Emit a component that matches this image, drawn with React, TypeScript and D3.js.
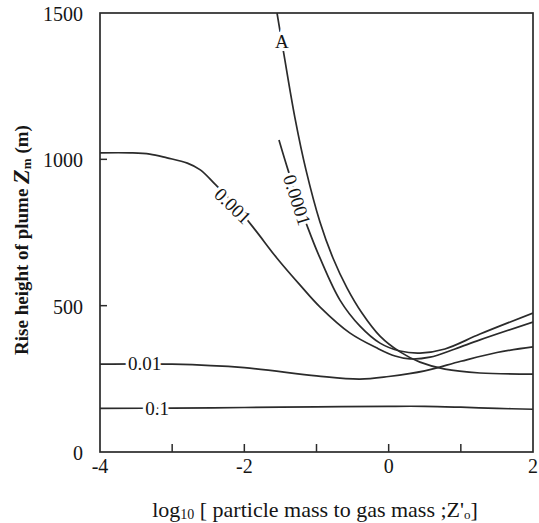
import React from 'react';
import * as d3 from 'd3';

type Pt = [number, number];

const xDomain: [number, number] = [-4, 2];
const yDomain: [number, number] = [0, 1500];
const xTickValues = [-4, -3, -2, -1, 0, 1, 2];
const xTickLabels = [-4, -2, 0, 2];
const yTickValues = [500, 1000];
const yTickLabels = [0, 500, 1000, 1500];

const seriesA: Pt[] = [[-1.547, 1500], [-1.45, 1357], [-1.298, 1141], [-1.146, 964], [-0.952, 786], [-0.772, 663], [-0.578, 561], [-0.37, 475], [-0.12, 396], [0.157, 342], [0.434, 307], [0.78, 283], [1.265, 270], [2, 266]];
const series00001: Pt[] = [[-1.52, 1066], [-1.395, 964], [-1.256, 861], [-1.118, 765], [-0.952, 663], [-0.675, 519], [-0.397, 430], [-0.12, 372], [0.157, 345], [0.434, 338], [0.78, 352], [1.265, 403], [2, 475]];
const series0001: Pt[] = [[-4, 1022], [-3.58, 1022], [-3.31, 1018], [-3.07, 1005], [-2.79, 987], [-2.61, 964], [-2.41, 916], [-2.13, 844], [-1.85, 759], [-1.55, 663], [-1.23, 571], [-0.95, 495], [-0.54, 407], [-0.16, 355], [0.088, 328], [0.295, 318], [0.573, 324], [0.919, 352], [1.265, 383], [2, 444]];
const series001: Pt[] = [[-4, 300], [-3, 300], [-2, 288], [-1, 260], [-0.4, 249], [0, 258], [0.5, 277], [1, 310], [1.5, 340], [2, 359]];
const series01: Pt[] = [[-4, 149], [-3, 150], [-2, 152], [-1, 154], [0, 156], [0.5, 156], [1, 153], [1.5, 149], [2, 146]];

const curveLabels = [
  { text: 'A', x: -1.48, y: 1401, angle: 0 },
  { text: '0.0001', x: -1.27, y: 861, angle: 72 },
  { text: '0.001', x: -2.16, y: 841, angle: 44 },
  { text: '0.01', x: -3.38, y: 301, angle: 0 },
  { text: '0.1', x: -3.21, y: 150, angle: 0 },
];

const allSeries = [seriesA, series00001, series0001, series001, series01];

const W = 539, H = 523;
const L = 100, R = 533, T = 13, B = 452;
const INK = '#2b2b2b';
const TXT = '#151515';
const FONT = '"Liberation Serif", "Times New Roman", serif';

export default function App() {
  const x = d3.scaleLinear().domain(xDomain).range([L, R]);
  const y = d3.scaleLinear().domain(yDomain).range([B, T]);
  const line = d3.line<Pt>().x(d => x(d[0])).y(d => y(d[1])).curve(d3.curveCatmullRom.alpha(0.5));

  return (
    <svg width={W} height={H} style={{ position: 'absolute', left: 0, top: 0, background: '#fff' }}
      fontFamily={FONT}>
      <defs>
        <clipPath id="plot"><rect x={L} y={T} width={R - L} height={B - T} /></clipPath>
      </defs>
      <g clipPath="url(#plot)">
        {allSeries.map((s, i) => (
          <path key={i} d={line(s) || ''} fill="none" stroke={INK} strokeWidth={1.7} />
        ))}
      </g>
      {curveLabels.map((c, i) => (
        <text key={i} transform={`translate(${x(c.x)},${y(c.y)}) rotate(${c.angle})`}
          textAnchor="middle" dominantBaseline="central" fontSize={19} fill={TXT}
          stroke="#fff" strokeWidth={6} style={{ paintOrder: 'stroke' }}>
          {c.text}
        </text>
      ))}
      <rect x={L} y={T} width={R - L} height={B - T} fill="none" stroke={INK} strokeWidth={1.7} />
      {xTickValues.filter(v => v > xDomain[0] && v < xDomain[1]).map(v => (
        <line key={v} x1={x(v)} x2={x(v)} y1={B} y2={B - 8} stroke={INK} strokeWidth={1.5} />
      ))}
      {yTickValues.map(v => (
        <line key={v} x1={L} x2={L + 7} y1={y(v)} y2={y(v)} stroke={INK} strokeWidth={1.5} />
      ))}
      {xTickLabels.map(v => (
        <text key={v} x={x(v)} y={B + 14} textAnchor="middle" dominantBaseline="central" fontSize={20} fill={TXT}>
          {v < 0 ? `-${Math.abs(v)}` : v}
        </text>
      ))}
      {yTickLabels.map(v => (
        <text key={v} x={L - 17} y={y(v) + 1} textAnchor="end" dominantBaseline="central" fontSize={20} fill={TXT}>
          {v}
        </text>
      ))}
      <text transform="translate(21,240) rotate(-90)" textAnchor="middle" dominantBaseline="central"
        fontSize={19} fontWeight="bold" fill={TXT}>
        Rise height of plume{' '}
        <tspan fontStyle="italic" fontSize={24}>Z</tspan>
        <tspan fontSize={13} dy={5}>m</tspan>
        <tspan dy={-5}>{' '}(m)</tspan>
      </text>
      <text x={315} y={509} textAnchor="middle" dominantBaseline="central" fontSize={22} fill={TXT}>
        log<tspan fontSize={14} dy={5}>10</tspan>
        <tspan dy={-5}>{' '}[ particle mass to gas mass ;Z'</tspan>
        <tspan fontSize={13} dy={5}>o</tspan>
        <tspan dy={-5}>]</tspan>
      </text>
    </svg>
  );
}
